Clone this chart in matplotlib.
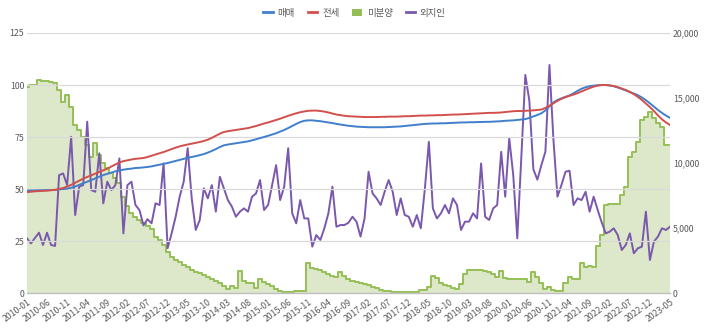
import matplotlib
matplotlib.use("Agg")
import matplotlib.pyplot as plt
from matplotlib.patches import Patch
from matplotlib.lines import Line2D
from matplotlib.ticker import FuncFormatter
import numpy as np
import pandas as pd

plt.rcParams['font.family'] = ['Noto Sans CJK KR', 'DejaVu Sans']

# monthly categories 2010-01 .. 2023-05
months = [str(p) for p in pd.period_range('2010-01', '2023-05', freq='M')]

# 매매 (left axis index)
sale = [49.2, 49.3, 49.3, 49.4, 49.4, 49.5, 49.5, 49.6, 49.8, 50.0,
        50.2, 50.6, 51.2, 52.0, 52.8, 53.5, 54.3, 55.1, 55.9, 56.7,
        57.3, 57.9, 58.5, 58.9, 59.3, 59.6, 59.8, 60.1, 60.2, 60.4,
        60.6, 60.9, 61.3, 61.7, 62.1, 62.5, 63.0, 63.5, 64.0, 64.5,
        65.0, 65.4, 65.8, 66.3, 66.8, 67.5, 68.3, 69.2, 70.2, 71.0,
        71.4, 71.7, 72.0, 72.3, 72.6, 72.9, 73.4, 73.9, 74.5, 75.0,
        75.6, 76.2, 76.8, 77.6, 78.4, 79.3, 80.3, 81.3, 82.2, 82.8,
        83.0, 83.0, 82.8, 82.6, 82.3, 82.0, 81.7, 81.3, 81.0, 80.7,
        80.4, 80.2, 80.0, 79.9, 79.8, 79.7, 79.7, 79.7, 79.7, 79.7,
        79.8, 79.9, 80.0, 80.1, 80.3, 80.5, 80.7, 80.9, 81.1, 81.3,
        81.4, 81.5, 81.5, 81.6, 81.6, 81.7, 81.8, 81.9, 82.0, 82.0,
        82.1, 82.1, 82.2, 82.2, 82.3, 82.3, 82.4, 82.5, 82.6, 82.8,
        82.9, 83.0, 83.2, 83.4, 83.6, 84.2, 84.9, 85.6, 86.4, 87.8,
        89.8, 91.6, 92.8, 93.6, 94.3, 95.0, 96.0, 97.2, 98.2, 98.9,
        99.4, 99.7, 99.9, 100.0, 100.0, 99.8, 99.4, 98.8, 98.1, 97.4,
        96.6, 95.9, 95.1, 94.0, 92.7, 91.2, 89.6, 88.0, 86.6, 85.3, 84.2]

# 전세 (left axis index)
jeonse = [48.5, 48.7, 48.9, 49.0, 49.1, 49.2, 49.4, 49.6, 50.0, 50.5,
          51.2, 52.0, 53.0, 54.0, 55.0, 55.8, 56.6, 57.4, 58.2, 59.0,
          59.8, 60.8, 61.8, 62.8, 63.4, 63.8, 64.2, 64.5, 64.7, 64.9,
          65.4, 66.0, 66.6, 67.2, 67.8, 68.5, 69.2, 69.9, 70.5, 71.0,
          71.4, 71.8, 72.2, 72.6, 73.1, 73.7, 74.6, 75.6, 76.6, 77.4,
          77.8, 78.1, 78.4, 78.7, 79.0, 79.3, 79.8, 80.3, 80.9, 81.5,
          82.0, 82.6, 83.2, 83.8, 84.5, 85.2, 85.8, 86.4, 86.9, 87.3,
          87.6, 87.7, 87.7, 87.5, 87.2, 86.8, 86.3, 85.8, 85.5, 85.2,
          85.0, 84.9, 84.8, 84.7, 84.6, 84.6, 84.6, 84.6, 84.7, 84.7,
          84.8, 84.8, 84.8, 84.9, 85.0, 85.0, 85.1, 85.2, 85.3, 85.3,
          85.4, 85.4, 85.5, 85.5, 85.6, 85.7, 85.8, 85.8, 85.9, 86.0,
          86.1, 86.2, 86.3, 86.4, 86.5, 86.6, 86.6, 86.7, 86.8, 87.0,
          87.2, 87.4, 87.5, 87.5, 87.6, 87.7, 87.8, 88.0, 88.2, 89.0,
          90.0, 91.2, 92.4, 93.4, 94.2, 94.8, 95.4, 96.1, 96.9, 97.7,
          98.5, 99.2, 99.7, 100.0, 100.0, 99.8, 99.5, 99.0, 98.3, 97.6,
          96.7, 95.6, 94.3, 92.8, 91.1, 89.4, 87.5, 85.4, 83.5, 82.0, 80.8]

# 미분양 (right axis)
unsold = [15870, 16000, 16000, 16380, 16320, 16320, 16260, 16130, 15620, 14720,
          15200, 14340, 12930, 12540, 12030, 11390, 10500, 11520, 10620, 9980,
          9600, 9220, 8830, 8450, 7420, 6660, 6140, 5840, 5600, 5360,
          5120, 4960, 4320, 4080, 3700, 3180, 2800, 2560, 2400, 2160,
          2000, 1780, 1630, 1520, 1360, 1260, 1070, 900, 800, 560,
          300, 530, 380, 1680, 900, 800, 770, 380, 1100, 850,
          720, 510, 320, 130, 50, 50, 50, 130, 130, 130,
          2340, 1900, 1840, 1780, 1580, 1440, 1330, 1260, 1580, 1330,
          1060, 960, 880, 800, 700, 620, 500, 370, 240, 160,
          130, 50, 50, 50, 50, 50, 50, 50, 240, 240,
          450, 1330, 1150, 770, 640, 510, 400, 300, 720, 1500,
          1780, 1780, 1780, 1780, 1700, 1630, 1460, 1260, 1730, 1140,
          1100, 1060, 1060, 1060, 1060, 880, 1580, 1220, 770, 300,
          460, 210, 130, 130, 800, 1220, 1060, 1060, 2290, 1980,
          2080, 1980, 3620, 4460, 6770, 6820, 6820, 6820, 7540, 8180,
          10480, 10880, 11630, 13310, 13570, 13950, 13440, 13060, 12800, 11390, 11390]

# 외지인 (right axis)
outsider = [4210, 3820, 4240, 4640, 3700, 4640, 3700, 3620, 9070, 9200,
            8300, 12020, 6000, 8180, 8300, 13180, 7920, 7790, 10750, 6900,
            8560, 7920, 8300, 10350, 4590, 8300, 8560, 6770, 6380, 5200,
            5680, 5360, 6900, 6770, 9970, 3440, 4590, 5870, 7410, 8560,
            11140, 7280, 4850, 5620, 8050, 7280, 8300, 6260, 8940, 8050,
            7150, 6640, 5870, 6260, 6510, 6260, 7410, 7660, 8690, 6380,
            6770, 8320, 9840, 7150, 8180, 11140, 6130, 5360, 7150, 5740,
            5740, 3570, 4460, 4080, 4980, 6130, 8180, 5100, 5230, 5230,
            5410, 5870, 5490, 4340, 5740, 9330, 7660, 7280, 6770, 7790,
            8690, 7790, 6000, 7280, 6000, 5870, 5100, 6000, 4980, 8000,
            11630, 6510, 5740, 6130, 6770, 6130, 7280, 6770, 4850, 5490,
            5490, 6130, 5740, 9970, 5870, 5620, 6510, 6770, 10860, 7410,
            11900, 9070, 4210, 10400, 16770, 14800, 9520, 8720, 9840, 10880,
            17540, 11780, 7410, 8320, 9330, 9410, 6770, 7280, 7150, 7790,
            6260, 7410, 6400, 5440, 4590, 4720, 4980, 4460, 3310, 3700,
            4590, 3060, 3440, 3570, 6260, 2540, 3950, 4340, 4980, 4850, 5100]

c_sale = '#3f7fcb'
c_jeonse = '#d2504c'
c_unsold = '#95bf55'
c_unsold_fill = '#dde8ca'
c_out = '#7a58ad'
txt = '#595959'

x = np.arange(len(months))

fig = plt.figure(figsize=(7.09, 3.30), dpi=100)
ax1 = fig.add_axes([0.038, 0.112, 0.907, 0.788])
ax2 = ax1.twinx()

# right axis: 미분양 area + 외지인 line
ax2.fill_between(x, unsold, step='mid', color=c_unsold_fill, lw=0)
ax2.step(x, unsold, where='mid', color=c_unsold, lw=1.4)
ax2.plot(x, outsider, color=c_out, lw=1.4)
ax2.set_ylim(0, 20000)
ax2.set_yticks([0, 5000, 10000, 15000, 20000])
ax2.yaxis.set_major_formatter(FuncFormatter(lambda v, p: f'{int(v):,}'))

# left axis: 매매, 전세 on top
ax1.set_zorder(ax2.get_zorder() + 1)
ax1.patch.set_visible(False)
ax1.plot(x, sale, color=c_sale, lw=1.4)
ax1.plot(x, jeonse, color=c_jeonse, lw=1.4)
ax1.set_ylim(0, 125)
ax1.set_yticks([0, 25, 50, 75, 100, 125])
ax1.set_xlim(0, len(months) - 1)
ax1.grid(axis='y', color='#d9d9d9', lw=0.9)
ax1.set_axisbelow(True)

ax1.set_xticks(x[::5])
ax1.set_xticklabels(months[::5], rotation=36, ha='right', rotation_mode='anchor')

for a in (ax1, ax2):
    for s in a.spines.values():
        s.set_visible(False)
    a.tick_params(length=0, labelsize=6.3, colors=txt, pad=2)
ax1.tick_params(axis='x', pad=3)
ax1.spines['bottom'].set_visible(True)
ax1.spines['bottom'].set_color('#bfbfbf')
ax1.spines['bottom'].set_linewidth(1.0)

handles = [Line2D([], [], color=c_sale, lw=2),
           Line2D([], [], color=c_jeonse, lw=2),
           Patch(facecolor=c_unsold, edgecolor='none'),
           Line2D([], [], color=c_out, lw=2)]
fig.legend(handles, ['매매', '전세', '미분양', '외지인'], loc='upper center',
           bbox_to_anchor=(0.5, 1.0), ncol=4, frameon=False, fontsize=6.8,
           handlelength=1.0, handleheight=0.9, columnspacing=1.4,
           handletextpad=0.5, labelcolor=txt)

fig.savefig('out.png', dpi=100)
